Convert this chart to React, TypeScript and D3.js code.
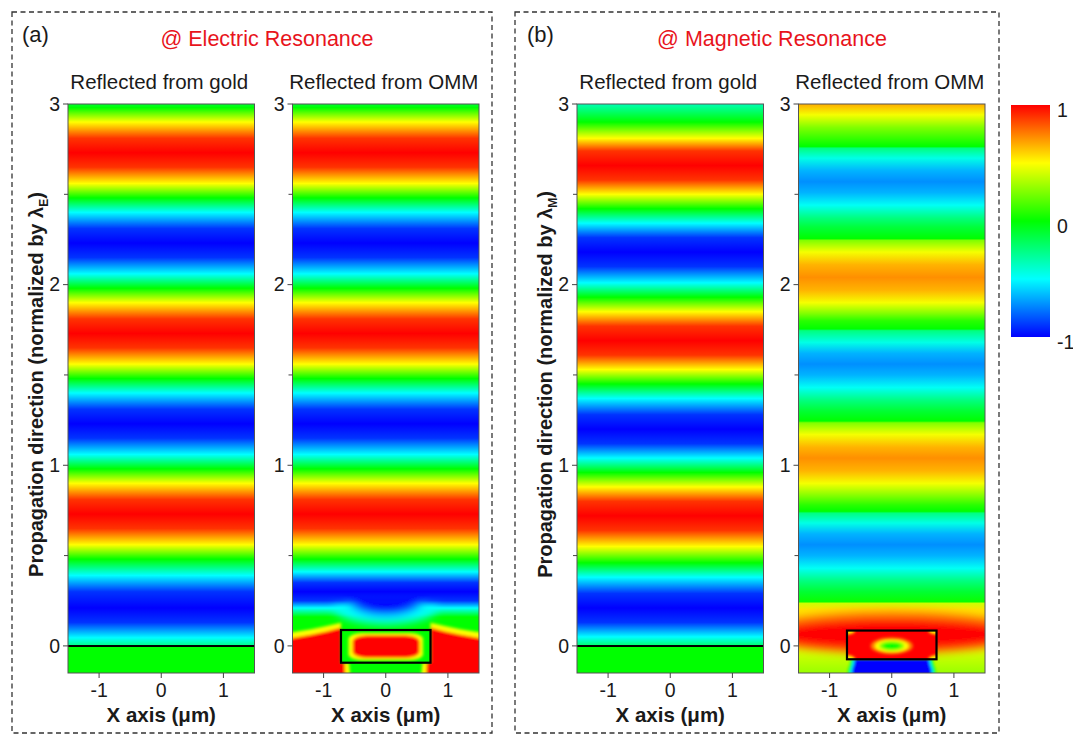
import React from "react";
import * as d3 from "d3";

type Pt = [number, number];

// colour map of the normalized field
const cmapStops = [-1, -0.5, 0, 0.5, 1];
const cmapColors = ["#0000ff", "#00ffff", "#00ff00", "#ffff00", "#ff0000"];
const barTicks = [-1, 0, 1];

const xTicks = [-1, 0, 1];
const yTicks = [0, 1, 2, 3];
const yMinor = [0.5, 1.5, 2.5];

// field along the propagation direction, [y (λ), field]
const goldElectric: Pt[] = [
  [-0.15, 0], [-0.002, 0], [0, -0.25], [0.045, -0.5], [0.13, -0.9], [0.21, -1], [0.3, -0.9], [0.39, -0.5], [0.48, 0],
  [0.56, 0.5], [0.65, 0.9], [0.73, 1], [0.81, 0.9], [0.9, 0.5], [0.98, 0],
  [1.06, -0.5], [1.15, -0.9], [1.23, -1], [1.31, -0.9], [1.4, -0.5], [1.48, 0],
  [1.56, 0.5], [1.65, 0.9], [1.73, 1], [1.81, 0.9], [1.9, 0.5], [1.98, 0],
  [2.06, -0.5], [2.15, -0.9], [2.23, -1], [2.31, -0.9], [2.4, -0.5], [2.48, 0],
  [2.56, 0.5], [2.65, 0.9], [2.73, 1], [2.81, 0.9], [2.9, 0.5], [2.98, 0], [3, -0.1],
];
const ommElectric: Pt[] = [
  [-0.15, 0], [0.16, 0], [0.21, -0.5], [0.25, -0.9], [0.3, -1], [0.35, -0.9], [0.41, -0.5], [0.48, 0],
  [0.56, 0.5], [0.65, 0.9], [0.73, 1], [0.81, 0.9], [0.9, 0.5], [0.98, 0],
  [1.06, -0.5], [1.15, -0.9], [1.23, -1], [1.31, -0.9], [1.4, -0.5], [1.48, 0],
  [1.56, 0.5], [1.65, 0.9], [1.73, 1], [1.81, 0.9], [1.9, 0.5], [1.98, 0],
  [2.06, -0.5], [2.15, -0.9], [2.23, -1], [2.31, -0.9], [2.4, -0.5], [2.48, 0],
  [2.56, 0.5], [2.65, 0.9], [2.73, 1], [2.81, 0.9], [2.9, 0.5], [2.98, 0], [3, -0.1],
];
const goldMagnetic: Pt[] = [
  [-0.15, 0], [-0.002, 0], [0, -0.2], [0.05, -0.5], [0.13, -0.9], [0.21, -1], [0.29, -0.9], [0.38, -0.5], [0.46, 0],
  [0.55, 0.5], [0.64, 0.9], [0.72, 1], [0.8, 0.9], [0.88, 0.5], [0.96, 0],
  [1.04, -0.5], [1.12, -0.9], [1.2, -1], [1.28, -0.9], [1.37, -0.5], [1.45, 0],
  [1.53, 0.5], [1.61, 0.9], [1.69, 1], [1.77, 0.9], [1.85, 0.5], [1.93, 0],
  [2.01, -0.5], [2.1, -0.9], [2.18, -1], [2.26, -0.9], [2.34, -0.5], [2.42, 0],
  [2.5, 0.5], [2.58, 0.9], [2.66, 1], [2.74, 0.9], [2.81, 0.5], [2.9, 0], [3, -0.35],
];
const ommMagnetic: Pt[] = [
  [-0.15, 0.3], [0.05, 0.5], [0.2, 0.55], [0.235, 0.4], [0.245, 0.02],
  [0.3, -0.1], [0.36, -0.25], [0.43, -0.48], [0.5, -0.65], [0.56, -0.72], [0.62, -0.65], [0.68, -0.45], [0.735, -0.25], [0.745, 0],
  [0.78, 0.08], [0.83, 0.25], [0.9, 0.48], [0.97, 0.65], [1.04, 0.72], [1.1, 0.65], [1.17, 0.48], [1.235, 0.25], [1.245, 0],
  [1.3, -0.1], [1.36, -0.25], [1.43, -0.48], [1.5, -0.65], [1.56, -0.72], [1.62, -0.65], [1.68, -0.45], [1.745, -0.25], [1.755, 0],
  [1.8, 0.08], [1.84, 0.25], [1.9, 0.48], [1.97, 0.65], [2.04, 0.72], [2.11, 0.65], [2.18, 0.48], [2.245, 0.25], [2.255, 0],
  [2.32, -0.12], [2.37, -0.25], [2.44, -0.48], [2.51, -0.65], [2.57, -0.72], [2.63, -0.65], [2.7, -0.45], [2.755, -0.25], [2.765, 0],
  [2.8, 0.08], [2.87, 0.25], [2.94, 0.48], [3, 0.66],
];

// OMM cross-sections [x0, x1, y0, y1]
const electricBox = [-0.72, 0.72, -0.093, 0.088];
const magneticBox = [-0.72, 0.72, -0.074, 0.085];

// electric resonance near field
// lower half-lobes hanging above the OMM [cx, cy, rx, ry, field]
const eLobes = [
  [0, 0.22, 0.85, 0.1, -0.5],
  [0, 0.265, 0.62, 0.095, -1],
];
// left side of the hot region next to the OMM (mirrored for the right side)
const eSideYellow: Pt[] = [
  [-1.8, -0.25], [-1.8, 0.072], [-1.5, 0.075], [-1.2, 0.092], [-0.95, 0.11], [-0.72, 0.128],
  [-0.72, -0.093], [-0.59, -0.093], [-0.55, -0.25],
];
const eSideRed: Pt[] = [
  [-1.8, -0.25], [-1.8, 0.042], [-1.5, 0.044], [-1.2, 0.062], [-0.95, 0.08], [-0.72, 0.1],
  [-0.72, -0.093], [-0.66, -0.093], [-0.64, -0.25],
];
// rounded cores inside the OMM [x0, x1, y0, y1, field]
const eCores = [
  [-0.6, 0.6, -0.08, 0.072, 0.5],
  [-0.53, 0.54, -0.066, 0.057, 1],
];

// magnetic resonance near field
const mLobes = [
  [0, 0.075, 2.2, 0.118, 0.75],
  [0, 0.065, 2.0, 0.09, 1],
];
const mUnderGreen: Pt[] = [[-0.66, -0.074], [-0.67, -0.1], [-0.7, -0.13], [-0.72, -0.25], [0.72, -0.25], [0.7, -0.13], [0.67, -0.1], [0.66, -0.074]];
const mUnderCyan: Pt[] = [[-0.63, -0.074], [-0.64, -0.1], [-0.67, -0.13], [-0.69, -0.25], [0.69, -0.25], [0.67, -0.13], [0.64, -0.1], [0.63, -0.074]];
const mUnderBlue: Pt[] = [[-0.6, -0.074], [-0.61, -0.1], [-0.64, -0.13], [-0.66, -0.25], [0.66, -0.25], [0.64, -0.13], [0.61, -0.1], [0.6, -0.074]];
const mCore = [
  [0, 0, 0.34, 0.046, 0.75],
  [0, 0, 0.27, 0.035, 0.5],
  [0, 0, 0.2, 0.026, 0.25],
  [0, 0, 0.14, 0.018, 0],
];
const mCorners = [
  [-0.72, 0.085, 0.13, 0.022, 0.5],
  [0.72, 0.085, 0.13, 0.022, 0.5],
  [-0.72, -0.074, 0.13, 0.022, 0.5],
  [0.72, -0.074, 0.13, 0.022, 0.5],
];

const xDomain = [-1.5, 1.5];
const yDomain = [-0.15, 3];
const plotTop = 104;
const plotBottom = 673;
const plotW = 186.5;
const font = "'Liberation Sans', Arial, Helvetica, sans-serif";

const cmap = d3.scaleLinear<string>().domain(cmapStops).range(cmapColors).clamp(true);

const mirror = (pts: Pt[]): Pt[] => pts.map(([a, b]) => [-a, b] as Pt);

type PanelProps = {
  id: string;
  left: number;
  profile: Pt[];
  title: string;
  kind: "gold" | "electric" | "magnetic";
  sub?: string;
};

function Panel({ id, left, profile, title, kind, sub }: PanelProps) {
  const x = d3.scaleLinear().domain(xDomain).range([left, left + plotW]);
  const y = d3.scaleLinear().domain(yDomain).range([plotBottom, plotTop]);
  const area = d3.line<Pt>().x((d) => x(d[0])).y((d) => y(d[1]));
  const shape = (pts: Pt[]) => area(pts) + "Z";
  const t = y(yDomain[1]);
  const b = y(yDomain[0]);
  const stops = [...profile].sort((p, q) => q[0] - p[0]);
  const cx = left + plotW / 2;
  const ell = (e: number[], i: number) => (
    <ellipse key={i} cx={x(e[0])} cy={y(e[1])} rx={x(e[2]) - x(0)} ry={y(0) - y(e[3])} fill={cmap(e[4])} />
  );
  // lower half of an ellipse
  const halfEll = (e: number[], i: number) => {
    const rx = x(e[2]) - x(0);
    const ry = y(0) - y(e[3]);
    return (
      <path key={i} fill={cmap(e[4])}
        d={`M${x(e[0]) - rx},${y(e[1])} A${rx},${ry} 0 0 0 ${x(e[0]) + rx},${y(e[1])} Z`} />
    );
  };
  const box = kind === "electric" ? electricBox : magneticBox;
  const boxRect = { x: x(box[0]), y: y(box[3]), width: x(box[1]) - x(box[0]), height: y(box[2]) - y(box[3]) };

  return (
    <g>
      <defs>
        <linearGradient id={`g-${id}`} gradientUnits="userSpaceOnUse" x1={0} x2={0} y1={t} y2={b}>
          {stops.map(([v, f], i) => (
            <stop key={i} offset={(y(v) - t) / (b - t)} stopColor={cmap(f)} />
          ))}
        </linearGradient>
        <clipPath id={`c-${id}`}>
          <rect x={x(xDomain[0])} y={t} width={plotW} height={b - t} />
        </clipPath>
        <clipPath id={`bx-${id}`}>
          <rect {...boxRect} />
        </clipPath>
      </defs>
      <g clipPath={`url(#c-${id})`}>
        <rect x={x(xDomain[0])} y={t} width={plotW} height={b - t} fill={`url(#g-${id})`} />
        {kind === "gold" && (
          <line x1={x(xDomain[0])} x2={x(xDomain[1])} y1={y(0)} y2={y(0)} stroke="#000" strokeWidth={2} />
        )}
        {kind === "electric" && (
          <g>
            <g filter="url(#soft)">{eLobes.map(halfEll)}</g>
            <g filter="url(#edge)">
              {[eSideYellow, eSideRed].map((pts, i) => (
                <g key={i} fill={cmap(i === 0 ? 0.5 : 1)}>
                  <path d={shape(pts)} />
                  <path d={shape(mirror(pts))} />
                </g>
              ))}
            </g>
            <rect {...boxRect} fill={cmap(0)} />
            <g filter="url(#edge)" clipPath={`url(#bx-${id})`}>
              {eCores.map((c, i) => (
                <rect key={i} x={x(c[0])} y={y(c[3])} width={x(c[1]) - x(c[0])} height={y(c[2]) - y(c[3])}
                  rx={14} ry={6} fill={cmap(c[4])} />
              ))}
            </g>
          </g>
        )}
        {kind === "magnetic" && (
          <g>
            <g filter="url(#soft)">{mLobes.map(ell)}</g>
            <g filter="url(#edge)">
              <path d={shape(mUnderGreen)} fill={cmap(0)} />
              <path d={shape(mUnderCyan)} fill={cmap(-0.5)} />
              <path d={shape(mUnderBlue)} fill={cmap(-1)} />
            </g>
            <rect {...boxRect} fill={cmap(1)} />
            <g clipPath={`url(#bx-${id})`}>
              <g filter="url(#edge)">{mCorners.map(ell)}</g>
              <g filter="url(#edge)">{mCore.map(ell)}</g>
            </g>
          </g>
        )}
        {kind !== "gold" && <rect {...boxRect} fill="none" stroke="#000" strokeWidth={2.2} />}
      </g>
      <rect x={x(xDomain[0])} y={t} width={plotW} height={b - t} fill="none" stroke="#555" strokeWidth={1} />

      {yTicks.map((v) => (
        <g key={v}>
          <line x1={left - 5} x2={left} y1={y(v)} y2={y(v)} stroke="#444" />
          <text x={left - 8} y={y(v)} dy="0.35em" textAnchor="end" fontSize={19.5} fill="#1a1a1a">{v}</text>
        </g>
      ))}
      {yMinor.map((v) => (
        <line key={v} x1={left - 4} x2={left} y1={y(v)} y2={y(v)} stroke="#444" />
      ))}
      {xTicks.map((v) => (
        <g key={v}>
          <line x1={x(v)} x2={x(v)} y1={b} y2={b + 5} stroke="#444" />
          <text x={x(v)} y={697} textAnchor="middle" fontSize={19.5} fill="#1a1a1a">{v}</text>
        </g>
      ))}
      <text x={cx} y={722} textAnchor="middle" fontSize={20.5} fontWeight="bold" fill="#1a1a1a">
        X axis (μm)
      </text>
      <text x={cx - 2} y={89} textAnchor="middle" fontSize={20.5} fill="#1a1a1a">{title}</text>
      {sub && (
        <text transform={`translate(${left - 25},${(t + b) / 2 - 4}) rotate(-90)`} textAnchor="middle"
          fontSize={20} fontWeight="bold" fill="#1a1a1a">
          Propagation direction (normalized by λ
          <tspan fontSize={12} dy={5}>{sub}</tspan>
          <tspan dy={-5}>)</tspan>
        </text>
      )}
    </g>
  );
}

function ColorBar() {
  const y = d3.scaleLinear().domain([-1, 1]).range([337, 105]);
  const x0 = 1011;
  const w = 39;
  return (
    <g>
      <defs>
        <linearGradient id="cbar" gradientUnits="userSpaceOnUse" x1={0} x2={0} y1={y(1)} y2={y(-1)}>
          {[...cmapStops].reverse().map((v, i) => (
            <stop key={i} offset={(y(v) - y(1)) / (y(-1) - y(1))} stopColor={cmap(v)} />
          ))}
        </linearGradient>
      </defs>
      <rect x={x0} y={y(1)} width={w} height={y(-1) - y(1)} fill="url(#cbar)" />
      {barTicks.map((v) => (
        <text key={v} x={x0 + w + 7} y={y(v) + 5} dy="0.35em" fontSize={19.5} fill="#1a1a1a">{v}</text>
      ))}
    </g>
  );
}

export default function App() {
  return (
    <svg width={1073} height={736} style={{ position: "absolute", left: 0, top: 0, background: "#fff" }}
      fontFamily={font}>
      <defs>
        <filter id="soft" x="-20%" y="-50%" width="140%" height="200%">
          <feGaussianBlur stdDeviation={4} />
        </filter>
        <filter id="edge" x="-20%" y="-50%" width="140%" height="200%">
          <feGaussianBlur stdDeviation={1.8} />
        </filter>
      </defs>

      <rect x={12} y={12} width={480} height={721} fill="none" stroke="#333" strokeWidth={1.3} strokeDasharray="5 3.5" />
      <rect x={515} y={12} width={484} height={721} fill="none" stroke="#333" strokeWidth={1.3} strokeDasharray="5 3.5" />

      <text x={22} y={42} fontSize={22} fill="#1a1a1a">(a)</text>
      <text x={267} y={46} textAnchor="middle" fontSize={21.5} fill="#e8141c">@ Electric Resonance</text>
      <text x={527} y={42} fontSize={22} fill="#1a1a1a">(b)</text>
      <text x={772} y={46} textAnchor="middle" fontSize={21.5} fill="#e8141c">@ Magnetic Resonance</text>

      <Panel id="ag" left={68} profile={goldElectric} title="Reflected from gold" kind="gold" sub="E" />
      <Panel id="ao" left={292.5} profile={ommElectric} title="Reflected from OMM" kind="electric" />
      <Panel id="bg" left={577} profile={goldMagnetic} title="Reflected from gold" kind="gold" sub="M" />
      <Panel id="bo" left={798.5} profile={ommMagnetic} title="Reflected from OMM" kind="magnetic" />

      <ColorBar />
    </svg>
  );
}
